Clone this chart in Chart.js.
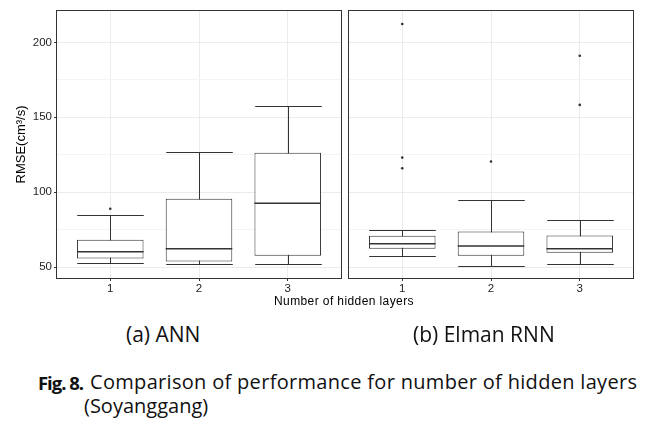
<!DOCTYPE html>
<html>
<head>
<meta charset="utf-8">
<script src="https://cdn.jsdelivr.net/npm/chart.js@4.4.1/dist/chart.umd.min.js"></script>
<style>
  html, body { margin: 0; padding: 0; background: #fff; }
  #page { position: relative; width: 656px; height: 428px; overflow: hidden; }
  .panel { position: absolute; top: 0; height: 300px; }
  .txt { position: absolute; white-space: nowrap; color: #111; }
  .axis-title { font-family: "Liberation Sans", Arial, sans-serif; font-size: 12px; line-height: 12px; letter-spacing: 0.4px; color: #000; }
  .caption { font-family: "Open Sans", sans-serif; font-size: 21px; line-height: 21px; }
  .fig { font-size: 20px; line-height: 20px; }
</style>
</head>
<body>
<div id="page">
  <div class="panel" style="left:0; width:345px;"><canvas id="annChart"></canvas></div>
  <div class="panel" style="left:345px; width:311px;"><canvas id="rnnChart"></canvas></div>
  <div class="txt axis-title" style="left:274px; top:295px;">Number of hidden layers</div>
  <div class="txt caption" style="left:126px; top:324px;">(a) ANN</div>
  <div class="txt caption" style="left:413px; top:324px;">(b) Elman RNN</div>
  <div class="txt caption fig" id="figLabel" style="left:38px; top:373px; font-size:18.5px; line-height:20px; font-weight:700;">Fig. 8.</div>
  <div class="txt caption fig" id="figText" style="left:90px; top:372px;">Comparison of performance for number of hidden layers</div>
  <div class="txt caption fig" style="left:84px; top:396px;">(Soyanggang)</div>
</div>
<script>
// hidden layer counts on the x axis
const layers = [1, 2, 3];
const yTicks = [50, 75, 100, 125, 150, 175, 200];

// (a) ANN box statistics
const annLow = [52.9, 52.3, 52.0];
const annQ1 = [55.8, 53.8, 57.6];
const annMedian = [60.3, 62.3, 92.7];
const annQ3 = [68.3, 95.6, 126.3];
const annHigh = [84.9, 126.7, 157.8];
const annOutliers = [[88.9], [], []];

// (b) Elman RNN box statistics
const rnnLow = [57.6, 50.7, 52.3];
const rnnQ1 = [62.3, 57.6, 59.6];
const rnnMedian = [65.6, 64.0, 62.3];
const rnnQ3 = [70.9, 73.8, 71.1];
const rnnHigh = [74.5, 94.9, 81.3];
const rnnOutliers = [[212.3, 123.1, 116.0], [120.5], [191.1, 158.3]];

const lineColor = '#333333';
const tickTextColor = '#1e1e1e';

document.addEventListener('DOMContentLoaded', function() {
    // fit the caption pieces to the widths they have in the paper
    fitWidth('figLabel', 46);
    fitWidth('figText', 547);

    createBoxChart('annChart', {
        low: annLow, q1: annQ1, median: annMedian, q3: annQ3, high: annHigh, outliers: annOutliers
    }, true);
    createBoxChart('rnnChart', {
        low: rnnLow, q1: rnnQ1, median: rnnMedian, q3: rnnQ3, high: rnnHigh, outliers: rnnOutliers
    }, false);
});

function fitWidth(id, width) {
    const el = document.getElementById(id);
    const extra = width - el.getBoundingClientRect().width;
    el.style.letterSpacing = (extra / (el.textContent.length - 1)) + 'px';
}

function createBoxChart(id, stats, withYAxis) {
    const ctx = document.getElementById(id).getContext('2d');

    const outlierPoints = [];
    stats.outliers.forEach(function(list, i) {
        list.forEach(function(v) { outlierPoints.push({ x: layers[i], y: v }); });
    });

    // whiskers go under the boxes, medians and the panel frame on top
    const boxParts = {
        id: 'boxParts',
        beforeDatasetsDraw(chart) {
            const xs = chart.scales.x, ys = chart.scales.y, c = chart.ctx;
            const bars = chart.getDatasetMeta(0).data;
            c.save();
            c.strokeStyle = lineColor;
            c.lineWidth = 1;
            layers.forEach(function(l, i) {
                const px = Math.round(xs.getPixelForValue(l)) + 0.5;
                const half = bars[i].width / 2;
                const top = Math.round(ys.getPixelForValue(stats.high[i])) + 0.5;
                const bot = Math.round(ys.getPixelForValue(stats.low[i])) + 0.5;
                c.beginPath();
                c.moveTo(px, top); c.lineTo(px, bot);
                c.moveTo(px - half, top); c.lineTo(px + half, top);
                c.moveTo(px - half, bot); c.lineTo(px + half, bot);
                c.stroke();
            });
            c.restore();
        },
        afterDatasetsDraw(chart) {
            const xs = chart.scales.x, ys = chart.scales.y, c = chart.ctx;
            const bars = chart.getDatasetMeta(0).data;
            c.save();
            c.strokeStyle = lineColor;
            c.lineWidth = 1.5;
            layers.forEach(function(l, i) {
                const px = xs.getPixelForValue(l);
                const half = bars[i].width / 2;
                const my = ys.getPixelForValue(stats.median[i]);
                c.beginPath();
                c.moveTo(px - half, my); c.lineTo(px + half, my);
                c.stroke();
            });
            const a = chart.chartArea;
            c.lineWidth = 1;
            c.strokeRect(a.left - 0.5, a.top - 0.5, a.right - a.left + 1, a.bottom - a.top + 1);
            c.restore();
        }
    };

    new Chart(ctx, {
        type: 'bar',
        data: {
            datasets: [{
                label: 'box',
                data: layers.map(function(l, i) { return { x: l, y: [stats.q1[i], stats.q3[i]] }; }),
                backgroundColor: '#ffffff',
                borderColor: lineColor,
                borderWidth: 1,
                borderSkipped: false,
                barPercentage: 0.75,
                categoryPercentage: 1.0
            }, {
                type: 'scatter',
                label: 'outliers',
                data: outlierPoints,
                backgroundColor: lineColor,
                borderColor: lineColor,
                pointRadius: 1.3,
                borderWidth: 0
            }]
        },
        plugins: [boxParts],
        options: {
            responsive: true,
            maintainAspectRatio: false,
            animation: false,
            layout: {
                padding: withYAxis ? { top: 11, right: 2, bottom: 0, left: 0 } : { top: 11, right: 23, bottom: 0, left: 2 }
            },
            plugins: {
                legend: { display: false },
                tooltip: { enabled: false }
            },
            scales: {
                x: {
                    type: 'linear',
                    min: 0.4,
                    max: 3.6,
                    offset: false,
                    afterBuildTicks: function(scale) { scale.ticks = layers.map(function(v) { return { value: v }; }); },
                    afterFit: function(scale) { scale.height = 22; },
                    border: { display: false },
                    grid: { offset: false, color: '#ebebeb', tickColor: lineColor, tickLength: 3, lineWidth: 1 },
                    ticks: {
                        padding: 1,
                        color: tickTextColor,
                        font: { family: 'Liberation Sans', size: 11.5 }
                    }
                },
                y: {
                    min: 42.7,
                    max: 221,
                    afterBuildTicks: function(scale) { scale.ticks = yTicks.map(function(v) { return { value: v }; }); },
                    afterFit: function(scale) { scale.width = withYAxis ? 57 : 0; },
                    border: { display: false },
                    grid: {
                        drawTicks: withYAxis,
                        tickLength: 3,
                        color: function(c) { return c.tick && c.tick.value % 50 === 0 ? '#ebebeb' : '#f4f4f4'; },
                        tickColor: function(c) { return c.tick && c.tick.value % 50 === 0 ? lineColor : 'rgba(0,0,0,0)'; }
                    },
                    ticks: {
                        display: withYAxis,
                        padding: 2,
                        color: tickTextColor,
                        font: { family: 'Liberation Sans', size: 11.5 },
                        callback: function(v) { return v % 50 === 0 ? v : ''; }
                    },
                    title: {
                        display: withYAxis,
                        text: 'RMSE(cm³/s)',
                        color: '#000000',
                        font: { family: 'Liberation Sans', size: 13 },
                        padding: { top: 14, bottom: 0 }
                    }
                }
            }
        }
    });
}
</script>
</body>
</html>
